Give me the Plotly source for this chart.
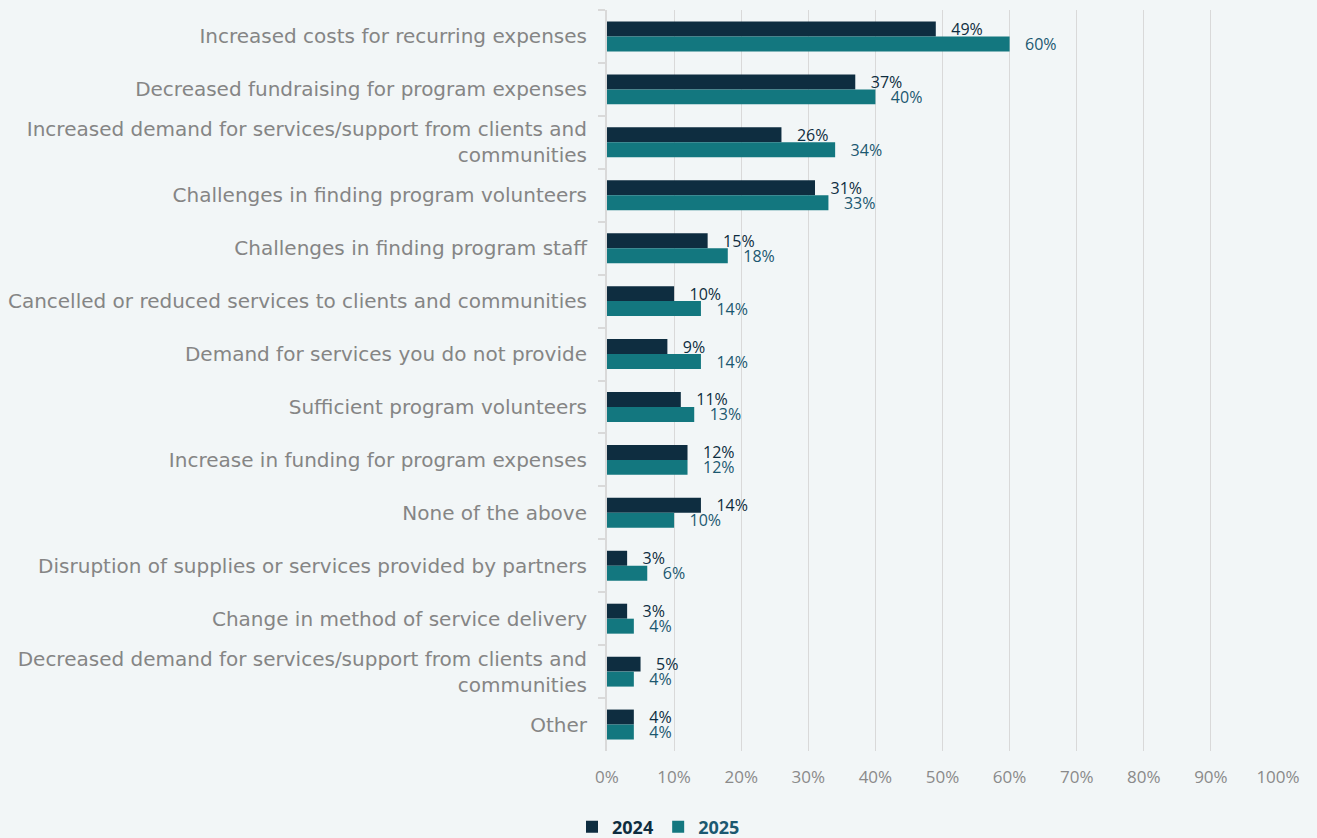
import plotly.graph_objects as go

categories = [
    "Increased costs for recurring expenses",
    "Decreased fundraising for program expenses",
    "Increased demand for services/support from clients and<br>communities",
    "Challenges in finding program volunteers",
    "Challenges in finding program staff",
    "Cancelled or reduced services to clients and communities",
    "Demand for services you do not provide",
    "Sufficient program volunteers",
    "Increase in funding for program expenses",
    "None of the above",
    "Disruption of supplies or services provided by partners",
    "Change in method of service delivery",
    "Decreased demand for services/support from clients and<br>communities",
    "Other",
]
values_2024 = [49, 37, 26, 31, 15, 10, 9, 11, 12, 14, 3, 3, 5, 4]
values_2025 = [60, 40, 34, 33, 18, 14, 14, 13, 12, 10, 6, 4, 4, 4]
x_ticks = [0, 10, 20, 30, 40, 50, 60, 70, 80, 90, 100]

C2024 = "#0e2d40"
C2025 = "#13777f"
TXT2025 = "#1b5870"
FONT = "Open Sans"
LABEL_FONT = "DejaVu Sans"


def pct_labels(values):
    return [f"   {v}%" for v in values]


fig = go.Figure()
fig.add_trace(go.Bar(
    name=f"<b><span style='color:{C2024}'>2024</span></b>",
    y=categories, x=values_2024, orientation="h",
    marker=dict(color=C2024, line=dict(width=0)),
    text=pct_labels(values_2024), textposition="outside",
    textfont=dict(family=FONT, size=16, color=C2024),
    constraintext="none", cliponaxis=False,
))
fig.add_trace(go.Bar(
    name=f"<b><span style='color:{TXT2025}'>2025</span></b>",
    y=categories, x=values_2025, orientation="h",
    marker=dict(color=C2025, line=dict(width=0)),
    text=pct_labels(values_2025), textposition="outside",
    textfont=dict(family=FONT, size=16, color=TXT2025),
    constraintext="none", cliponaxis=False,
))

fig.update_layout(
    width=1317, height=838,
    margin=dict(l=607, r=39, t=10, b=87),
    paper_bgcolor="#f2f6f7", plot_bgcolor="#f2f6f7",
    barmode="group", bargap=0.434, bargroupgap=0,
    font=dict(family=FONT, color="#7f7f7f"),
    showlegend=True,
    legend=dict(
        orientation="h", xref="container", yref="container",
        x=0.5, xanchor="center", y=0.035, yanchor="top",
        font=dict(family=FONT, size=18),
        itemwidth=30, traceorder="normal",
    ),
    xaxis=dict(
        range=[0, 100], tickvals=x_ticks,
        ticktext=[f"{v}%" for v in x_ticks],
        showgrid=True, gridcolor="#d9d9d9", gridwidth=1,
        zeroline=False, showline=False, ticks="",
        tickfont=dict(family=FONT, size=17, color="#8a8a8a"),
        ticklabelstandoff=14, automargin=False,
    ),
    yaxis=dict(
        autorange="reversed", showline=True, linecolor="#d9d9d9", linewidth=2,
        ticks="outside", tickson="boundaries", ticklen=7, tickcolor="#d9d9d9",
        tickwidth=2, showgrid=False, automargin=False,
        tickfont=dict(family=LABEL_FONT, size=20, color="#858585"),
        ticklabelstandoff=14,
    ),
)

fig.write_html("out.html")
